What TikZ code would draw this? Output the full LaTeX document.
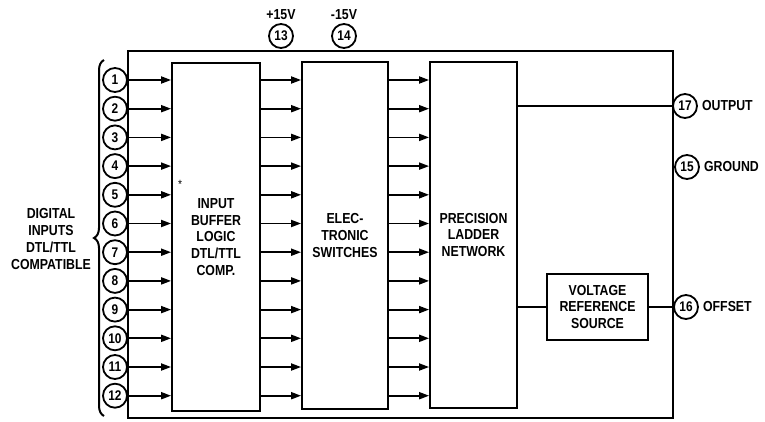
\documentclass[tikz,border=0pt]{standalone}
\usepackage{fontspec}
\setmainfont{Liberation Sans}[FakeStretch=0.85]
\usetikzlibrary{arrows.meta,decorations.pathreplacing}

\tikzset{
	txt/.style={font=\bfseries\fontsize{14.5}{16.8}\selectfont, align=center, inner sep=0pt},
	pinc/.style={draw, circle, line width=1.8pt, minimum size=24pt, inner sep=0pt, font=\bfseries\fontsize{14}{14}\selectfont},
	block/.style={draw, line width=1.8pt, inner sep=0pt, txt},
	sig/.style={line width=1.8pt, -{Triangle[length=10pt,width=7pt]}},
	wire/.style={line width=1.8pt},
}

\begin{document}
\begin{tikzpicture}[x=1pt, y=-1pt]
	\useasboundingbox (0, 0) rectangle (765, 421);

	% package outline
	\node[block, minimum width=545, minimum height=367] (chip) at (400.5, 234.5) {};

	% inner blocks
	\node[block, minimum width=88, minimum height=348] (buffer) at (216, 237) {INPUT\\BUFFER\\LOGIC\\DTL/TTL\\COMP.};
	\node[block, minimum width=86, minimum height=347] (switches) at (345, 235.5) {ELEC-\\TRONIC\\SWITCHES};
	\node[block, minimum width=87, minimum height=346] (ladder) at (473.5, 235) {PRECISION\\LADDER\\NETWORK};
	\node[block, minimum width=101, minimum height=66] (vref) at (597.5, 307) {VOLTAGE\\REFERENCE\\SOURCE};

	% digital inputs
	\foreach \i in {1,...,12} {
		\node[pinc] (p\i) at (115, {80 + (\i-1)*28.7}) {\i};
		\draw[sig] (p\i.east) -- (buffer.west |- p\i);
		\draw[sig] (buffer.east |- p\i) -- (switches.west |- p\i);
		\draw[sig] (switches.east |- p\i) -- (ladder.west |- p\i);
	}

	\draw[line width=2pt, decorate, decoration={brace, amplitude=10pt}] (104, 416) -- (104, 60);
	\node[txt] (inputs) at (51, 239) {DIGITAL\\INPUTS\\DTL/TTL\\COMPATIBLE};
	\node[font=\fontsize{12}{12}\selectfont, inner sep=0pt] (star) at (180, 184) {*};

	% supply pins
	\node[pinc] (p13) at (281, 36) {13};
	\node[pinc] (p14) at (344, 36) {14};
	\node[txt] (vplus) at (281, 15) {+15V};
	\node[txt] (vminus) at (344, 15) {-15V};

	% output side
	\node[pinc] (p17) at (685, 106) {17};
	\node[pinc] (p15) at (687, 167) {15};
	\node[pinc] (p16) at (686, 307) {16};
	\node[txt, anchor=west] (out) at ([xshift=4pt]p17.east) {OUTPUT};
	\node[txt, anchor=west] (gnd) at ([xshift=4pt]p15.east) {GROUND};
	\node[txt, anchor=west] (ofs) at ([xshift=4pt]p16.east) {OFFSET};

	\draw[wire] (ladder.east |- p17) -- (p17.west);
	\draw[wire] (ladder.east |- vref) -- (vref.west);
	\draw[wire] (vref.east) -- (p16.west);

\end{tikzpicture}
\end{document}
